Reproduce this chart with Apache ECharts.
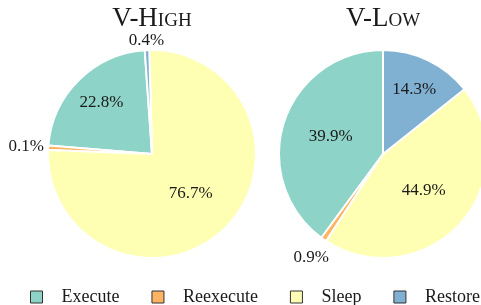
<!DOCTYPE html>
<html>
<head>
<meta charset="utf-8">
<script src="https://cdn.jsdelivr.net/npm/echarts@6/dist/echarts.min.js"></script>
<style>
  html, body { margin: 0; padding: 0; background: #fff; }
  #phases { width: 481px; height: 305px; }
</style>
</head>
<body>
<div id="phases"></div>
<script>
// share of time per state (%), legend order
const states = ['Execute', 'Reexecute', 'Sleep', 'Restore'];
const stateColors = ['#8dd3c7', '#fdb462', '#ffffb3', '#80b1d3'];
const highShare = [22.8, 0.1, 76.7, 0.4];
const lowShare = [39.9, 0.9, 44.9, 14.3];
const titles = ['V-High', 'V-Low'];
// which ring each percentage label sits on
const highLabelRing = ['mid', 'far', 'in', 'near'];
const lowLabelRing = ['in', 'far', 'in', 'mid'];

const font = "'Liberation Serif', 'Times New Roman', serif";
const R = 104;
// invisible rings that only carry labels (label sits at the ring middle + 3px)
const labelRings = { mid: [56, 82], near: [100, 122], far: [112, 134] };

function pctLabel(ring, key) {
  return {
    show: true,
    position: 'inside',
    fontFamily: font,
    fontSize: 17,
    color: '#1a1a1a',
    formatter: p => (ring[p.dataIndex] === key ? p.value + '%' : '')
  };
}

function pieSeries(values, ring, center, startAngle) {
  const list = [];
  list.push({
    type: 'pie',
    center: center,
    radius: [0, R],
    startAngle: startAngle,
    clockwise: false,
    minAngle: 2.5,
    avoidLabelOverlap: false,
    itemStyle: { borderColor: '#fff', borderWidth: 2 },
    label: pctLabel(ring, 'in'),
    labelLine: { show: false },
    emphasis: { disabled: true },
    data: values.map((v, i) => ({ name: states[i], value: v, itemStyle: { color: stateColors[i] } }))
  });
  Object.keys(labelRings).forEach(key => {
    list.push({
      type: 'pie',
      center: center,
      radius: labelRings[key],
      startAngle: startAngle,
      clockwise: false,
      minAngle: 2.5,
      silent: true,
      legendHoverLink: false,
      avoidLabelOverlap: false,
      itemStyle: { color: 'rgba(0,0,0,0)', borderWidth: 0 },
      label: pctLabel(ring, key),
      labelLine: { show: false },
      emphasis: { disabled: true },
      data: values.map((v, i) => ({ name: states[i], value: v }))
    });
  });
  return list;
}

const chart = echarts.init(document.getElementById('phases'));
const titleStyle = { fontFamily: font, fontSize: 27, fontWeight: 'normal', fontStyle: 'small-caps', color: '#1a1a1a' };
chart.setOption({
  animation: false,
  title: [
    { text: titles[0], left: 152, top: 5, textAlign: 'center', padding: 0, textStyle: titleStyle },
    { text: titles[1], left: 383, top: 5, textAlign: 'center', padding: 0, textStyle: titleStyle }
  ],
  legend: {
    data: states,
    left: 30,
    top: 288,
    padding: 0,
    icon: 'rect',
    itemWidth: 12,
    itemHeight: 12,
    itemGap: 32,
    itemStyle: { borderColor: '#333', borderWidth: 1 },
    textStyle: { fontFamily: font, fontSize: 18, color: '#1a1a1a', padding: [0, 0, 0, 14] }
  },
  series: [].concat(
    pieSeries(highShare, highLabelRing, [152, 154], 94),
    pieSeries(lowShare, lowLabelRing, [383, 154], 90)
  )
});
</script>
</body>
</html>
